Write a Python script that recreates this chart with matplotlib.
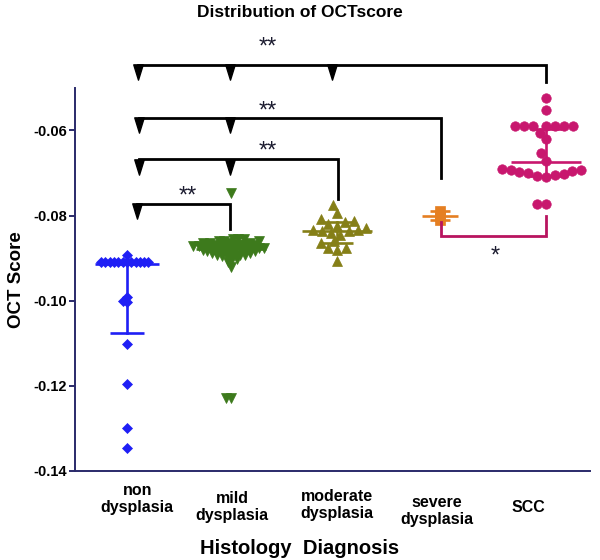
import numpy as np
import matplotlib
matplotlib.use("Agg")
import matplotlib.pyplot as plt
from matplotlib.path import Path

plt.rcParams['font.family'] = ['Liberation Sans', 'DejaVu Sans']
plt.rcParams['font.weight'] = 'bold'

# ---------------- data ----------------
categories = ["non\ndysplasia", "mild\ndysplasia", "moderate\ndysplasia",
              "severe\ndysplasia", "SCC"]

non_dysplasia = [-0.0892, -0.0910, -0.0910, -0.0910, -0.0910, -0.0910, -0.0910,
                 -0.0910, -0.0910, -0.0910, -0.0910, -0.0910, -0.0910,
                 -0.0991, -0.1000, -0.1004, -0.1101, -0.1196, -0.1298, -0.1345]

mild_dysplasia = [-0.0747,
                  -0.0856, -0.0856, -0.0856, -0.0860, -0.0860, -0.0860,
                  -0.0864, -0.0864, -0.0864, -0.0864,
                  -0.0868, -0.0868, -0.0868, -0.0868, -0.0868,
                  -0.0872, -0.0872, -0.0872, -0.0872, -0.0872,
                  -0.0876, -0.0876, -0.0876, -0.0876, -0.0876,
                  -0.0880, -0.0880, -0.0880, -0.0880, -0.0880,
                  -0.0884, -0.0884, -0.0884, -0.0884,
                  -0.0888, -0.0888, -0.0888, -0.0892, -0.0892, -0.0892,
                  -0.0896, -0.0896, -0.0902, -0.0902, -0.0910, -0.0920,
                  -0.1229, -0.1229]

moderate_dysplasia = [-0.0776, -0.0795, -0.0808, -0.0813, -0.0816, -0.0820, -0.0824,
                      -0.0828, -0.0833, -0.0833, -0.0837, -0.0837, -0.0840, -0.0845,
                      -0.0860, -0.0864, -0.0876, -0.0876, -0.0880, -0.0906]

severe_dysplasia = [-0.0790, -0.0800, -0.0810]

scc = [-0.0523, -0.0552, -0.0590, -0.0590, -0.0590, -0.0590, -0.0590, -0.0590, -0.0590,
       -0.0605, -0.0620, -0.0654, -0.0672,
       -0.0690, -0.0692, -0.0694, -0.0696, -0.0698,
       -0.0700, -0.0702, -0.0704, -0.0706, -0.0709,
       -0.0772, -0.0772]

groups = [non_dysplasia, mild_dysplasia, moderate_dysplasia, severe_dysplasia, scc]

# median and interquartile range
medians = [-0.0913, -0.0878, -0.0837, -0.0800, -0.0675]
q_upper = [-0.0910, -0.0870, -0.0816, -0.0790, -0.0596]
q_lower = [-0.1076, -0.0888, -0.0864, -0.0810, -0.0708]

y_ticks = [-0.14, -0.12, -0.10, -0.08, -0.06]
y_tick_labels = ["-0.14", "-0.12", "-0.10", "-0.08", "-0.06"]

# ---------------- style / layout ----------------
colors = ["#1f1ff5", "#3d7a1c", "#857f17", "#e57f22", "#c8176e"]
markers = ["D", "v", "^", "s", "o"]
msizes = [5.0, 6.5, 7.0, 6.5, 6.8]
swarm_d = [4.3, 5.2, 9.0, 4.0, 9.0]
group_x = [-0.06, -0.04, 0.0, 0.01, 0.05]        # offset of the scatter from the category
label_x = [0.04, 0.97, 2.0, 2.98, 3.88]
label_y_px = [499, 507, 505, 511, 507]            # label centre, pixels from the top
med_half = [0.31, 0.34, 0.34, 0.18, 0.34]
bar_half = [0.17, 0.17, 0.16, 0.10, 0.16]

fig = plt.figure(figsize=(6.0, 5.6), dpi=100)
ax = fig.add_axes([0.125, 0.159, 0.858, 0.684])
ax.set_xlim(-0.57, 4.48)
ax.set_ylim(-0.14, -0.05)

px_per_x = ax.transData.transform((1, 0))[0] - ax.transData.transform((0, 0))[0]


def swarm_offsets(values, center, diam):
    vals = np.asarray(values, dtype=float)
    ys = ax.transData.transform(np.column_stack([np.full(len(vals), center), vals]))[:, 1]
    order = np.argsort(vals, kind="stable")
    placed = []
    offs = np.zeros(len(vals))
    for i in order:
        y = ys[i]
        cands = [0.0]
        for po, py in placed:
            dy = y - py
            if abs(dy) < diam:
                dx = np.sqrt(diam ** 2 - dy ** 2)
                cands += [po + dx, po - dx]
        cands.sort(key=lambda c: (abs(c), c))
        chosen = cands[-1]
        for c in cands:
            if all((c - po) ** 2 + (y - py) ** 2 >= diam ** 2 - 1e-6 for po, py in placed):
                chosen = c
                break
        offs[i] = chosen
        placed.append((chosen, y))
    return offs / px_per_x


for i, vals in enumerate(groups):
    cx = i + group_x[i]
    xo = swarm_offsets(vals, cx, swarm_d[i])
    ax.plot(cx + xo, vals, linestyle="none", marker=markers[i], ms=msizes[i],
            mfc=colors[i], mec=colors[i], mew=0.5, zorder=3)
    ax.plot([cx - med_half[i], cx + med_half[i]], [medians[i]] * 2,
            color=colors[i], lw=1.9, zorder=4, solid_capstyle="butt")
    for q in (q_upper[i], q_lower[i]):
        ax.plot([cx - bar_half[i], cx + bar_half[i]], [q] * 2,
                color=colors[i], lw=1.9, zorder=4, solid_capstyle="butt")
    ax.plot([cx, cx], [q_lower[i], q_upper[i]], color=colors[i], lw=1.9, zorder=4)

# ---------------- significance brackets ----------------
tri = Path([(-0.62, 1), (0.62, 1), (0, -1), (-0.62, 1)],
           [Path.MOVETO, Path.LINETO, Path.LINETO, Path.CLOSEPOLY])

brackets = [
    # (x positions with triangles, right x, bracket y, right leg end y, label, label x, label y)
    ([0.05, 0.955, 1.95], 4.05, -0.0445, -0.0485, "**", 1.32, -0.0405),
    ([0.06, 0.955], 3.02, -0.0570, -0.0712, "**", 1.32, -0.0555),
    ([0.06, 0.955], 2.01, -0.0668, -0.0762, "**", 1.32, -0.0650),
    ([0.04], 0.955, -0.0772, -0.0831, "**", 0.54, -0.0755),
]
for xs, xr, yb, yr, lab, lx, ly in brackets:
    ax.plot([xs[0], xr, xr], [yb, yb, yr], color="black", lw=2.0,
            clip_on=False, zorder=5, solid_joinstyle="miter")
    ax.plot(xs, [yb - 0.0017] * len(xs), linestyle="none", marker=tri, ms=11,
            color="black", clip_on=False, zorder=5)
    ax.text(lx, ly, lab, ha="center", va="center", fontsize=17, color="#1c1c30",
            fontweight="normal", clip_on=False)

# severe vs SCC bracket (magenta)
ax.plot([3.02, 3.02, 4.05, 4.05], [-0.0814, -0.0849, -0.0849, -0.0802],
        color="#b8145f", lw=2.0, zorder=5, solid_joinstyle="miter")
ax.text(3.55, -0.0895, "*", ha="center", va="center", fontsize=17,
        color="#1c1c30", fontweight="normal")

# ---------------- axes styling ----------------
axis_col = "#2a2a6a"
for s in ("top", "right"):
    ax.spines[s].set_visible(False)
for s in ("left", "bottom"):
    ax.spines[s].set_color(axis_col)
    ax.spines[s].set_linewidth(1.4)

ax.set_yticks(y_ticks)
ax.set_yticklabels(y_tick_labels, fontsize=10.5, fontweight="bold")
ax.tick_params(axis="y", direction="out", length=4, width=1.4, color=axis_col, pad=2)
ax.set_xticks([])

ax_h_px = 0.684 * 560
ax_bottom_px = 560 * (1 - 0.159)
for lab, lx, ly in zip(categories, label_x, label_y_px):
    ax.text(lx, (ax_bottom_px - ly) / ax_h_px, lab, transform=ax.get_xaxis_transform(),
            ha="center", va="center", fontsize=11.5, fontweight="bold",
            linespacing=1.2, clip_on=False)

ax.set_ylabel("OCT Score", fontsize=13.5, fontweight="bold", labelpad=6)
fig.text(0.5, 1 - 549 / 560, "Histology  Diagnosis", ha="center", va="center",
         fontsize=14.5, fontweight="bold")
fig.text(0.5, 0.978, "Distribution of OCTscore", ha="center", va="center",
         fontsize=12.5, fontweight="bold")

fig.savefig("out.png", dpi=100)
